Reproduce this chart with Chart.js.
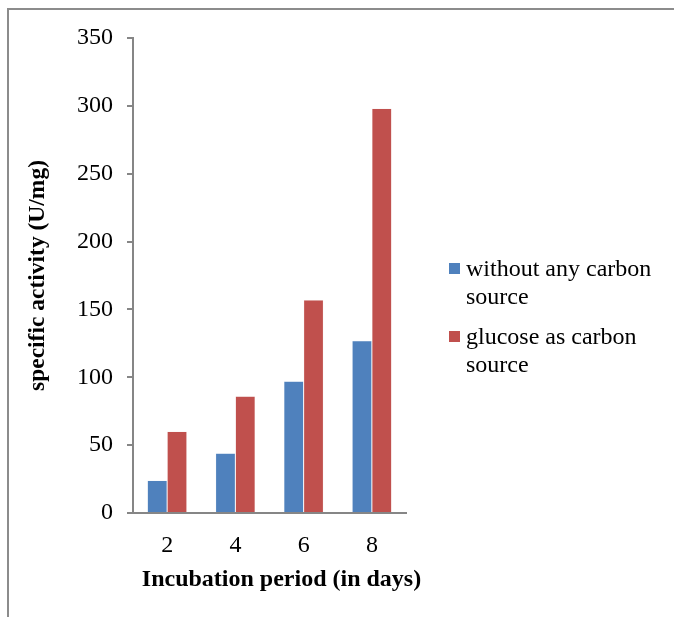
<!DOCTYPE html>
<html>
<head>
<meta charset="utf-8">
<script src="https://cdn.jsdelivr.net/npm/chart.js@4.4.0/dist/chart.umd.min.js"></script>
<style>
	body { margin: 0; background: #fff; }
	#wrap { position: relative; width: 674px; height: 617px; overflow: hidden; }
	#frame { position: absolute; left: 7px; top: 8px; width: 700px; height: 700px; border-top: 2px solid #8c8c8c; border-left: 2px solid #8c8c8c; }
	#chartCanvas { position: absolute; left: 0; top: 0; }
	#legendBox { position: absolute; left: 449px; top: 254px; font-family: "Liberation Serif", serif; font-size: 24px; color: #000; }
	.item { position: relative; padding-left: 17px; line-height: 28px; margin-bottom: 12px; }
	.box { position: absolute; left: 0; top: 9px; width: 11px; height: 11px; }
</style>
</head>
<body>
<div id="wrap">
	<div id="frame"></div>
	<canvas id="chartCanvas" width="674" height="617"></canvas>
	<div id="legendBox"></div>
</div>
<script>
const days = ["2", "4", "6", "8"];
const withoutCarbon = [24, 44, 97, 127];
const withGlucose = [60, 86, 157, 298];
const seriesNames = [["without any carbon", "source"], ["glucose as carbon", "source"]];
const seriesColors = ["#4f81bd", "#c0504d"];
const xTitle = "Incubation period (in days)";

const ctx = document.getElementById("chartCanvas").getContext("2d");
const serif = "'Liberation Serif', serif";

// x axis title sits a little right of the plot centre, as in the original
const xTitlePlugin = {
	id: "xTitlePlugin",
	afterDraw: function(chart) {
		const c = chart.ctx;
		const area = chart.chartArea;
		c.save();
		c.font = "bold 24px " + serif;
		c.fillStyle = "#000";
		c.textAlign = "center";
		c.textBaseline = "middle";
		c.fillText(xTitle, (area.left + area.right) / 2 + 12, area.bottom + 67);
		c.restore();
	}
};

const chart = new Chart(ctx, {
	type: "bar",
	data: {
		labels: days,
		datasets: [
			{
				label: seriesNames[0].join(" "),
				data: withoutCarbon,
				backgroundColor: seriesColors[0],
				borderColor: "#e8eef6",
				borderWidth: 0.5,
				categoryPercentage: 0.58,
				barPercentage: 1
			},
			{
				label: seriesNames[1].join(" "),
				data: withGlucose,
				backgroundColor: seriesColors[1],
				borderColor: "#f4e6e6",
				borderWidth: 0.5,
				categoryPercentage: 0.58,
				barPercentage: 1
			}
		]
	},
	options: {
		responsive: false,
		animation: false,
		layout: { padding: { left: 24, top: 38, right: 268, bottom: 22 } },
		plugins: {
			legend: { display: false },
			tooltip: { enabled: false }
		},
		scales: {
			x: {
				grid: { display: false },
				border: { display: true, color: "#868686", width: 2 },
				ticks: { color: "#000", font: { family: serif, size: 24 }, padding: 10 },
				afterFit: function(scale) { scale.height = 82; }
			},
			y: {
				min: 0,
				max: 350,
				ticks: { stepSize: 50, color: "#000", font: { family: serif, size: 24 }, padding: 14 },
				grid: { drawOnChartArea: false, drawTicks: true, tickLength: 6, color: "#868686", lineWidth: 2 },
				border: { display: true, color: "#868686", width: 2 },
				title: {
					display: true,
					text: "specific activity (U/mg)",
					color: "#000",
					font: { family: serif, size: 23.5, weight: "bold" },
					padding: { top: 0, bottom: 20 }
				},
				afterFit: function(scale) { scale.width = 109; }
			}
		}
	},
	plugins: [xTitlePlugin]
});

// legend with wrapped labels, built from the series names
const legendBox = document.getElementById("legendBox");
seriesNames.forEach(function(lines, i) {
	const item = document.createElement("div");
	item.className = "item";
	const box = document.createElement("span");
	box.className = "box";
	box.style.background = seriesColors[i];
	item.appendChild(box);
	item.appendChild(document.createTextNode(lines[0]));
	item.appendChild(document.createElement("br"));
	item.appendChild(document.createTextNode(lines[1]));
	legendBox.appendChild(item);
});
</script>
</body>
</html>
